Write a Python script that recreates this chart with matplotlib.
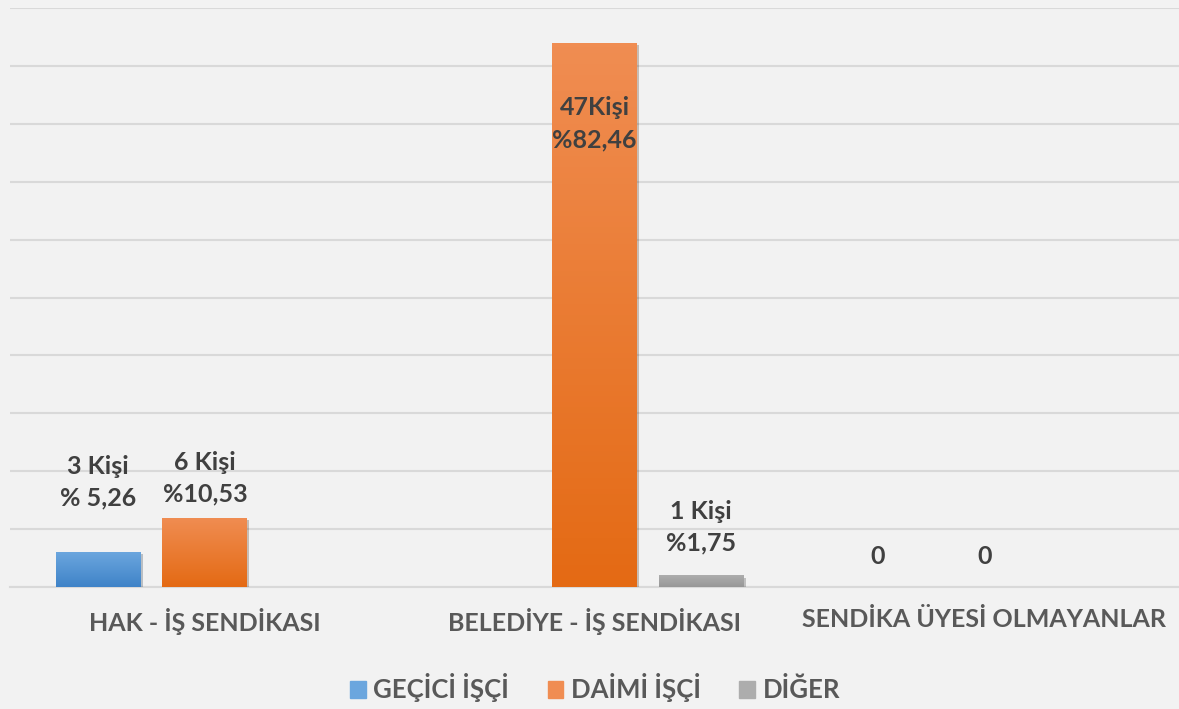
import numpy as np
import matplotlib
matplotlib.use("Agg")
import matplotlib.pyplot as plt
import matplotlib.patheffects as pe
from matplotlib.colors import LinearSegmentedColormap

# data
categories = ["HAK - İŞ SENDİKASI", "BELEDİYE - İŞ SENDİKASI", "SENDİKA ÜYESİ OLMAYANLAR"]
series = ["GEÇİCİ İŞÇİ", "DAİMİ İŞÇİ", "DİĞER"]
gecici = [3, 0, 0]
daimi = [6, 47, 0]
diger = [0, 1, 0]
gecici_labels = ["3 Kişi\n% 5,26", "", "0"]
daimi_labels = ["6 Kişi\n%10,53", "47Kişi\n%82,46", "0"]
diger_labels = ["", "1 Kişi\n%1,75", ""]

# style
top_cols = ["#6BA6DE", "#F08D52", "#ADADAD"]
bot_cols = ["#3F83C8", "#E46A14", "#979797"]
label_shift = [[70, 0, 30], [39, -81, 30], [0, 48, 0]]  # px above bar top
bg = "#F2F2F2"

plt.rcParams['font.family'] = ['Lato', 'DejaVu Sans']

fig = plt.figure(figsize=(11.79, 7.09), dpi=100, facecolor=bg)
ax = fig.add_axes([10/1179, 122/709, 1169/1179, 579/709])
ax.set_facecolor(bg)

x = np.arange(len(categories))
step = 0.274
width = 0.218
all_vals = [gecici, daimi, diger]
all_labels = [gecici_labels, daimi_labels, diger_labels]

for i, (vals, labs) in enumerate(zip(all_vals, all_labels)):
    bars = ax.bar(x + (i - 1) * step, vals, width, color=bot_cols[i], label=series[i], zorder=3,
                  path_effects=[pe.SimplePatchShadow(offset=(1.5, -1.5), alpha=0.25), pe.Normal()])
    cmap = LinearSegmentedColormap.from_list("g%d" % i, [bot_cols[i], top_cols[i]])
    for b in bars:
        h = b.get_height()
        if h <= 0:
            continue
        grad = np.linspace(0, 1, 100).reshape(-1, 1)
        im = ax.imshow(grad, cmap=cmap, origin="lower", aspect="auto", zorder=4,
                       extent=[b.get_x(), b.get_x() + b.get_width(), 0, h])
        im.set_clip_path(b)
    for b, lab, sh in zip(bars, labs, label_shift[i]):
        if not lab:
            continue
        ax.annotate(lab, (b.get_x() + b.get_width() / 2, b.get_height()),
                    xytext=(0, sh), textcoords="offset pixels", ha="center", va="center",
                    fontsize=18, fontweight="bold", color="#404040", linespacing=1.45, zorder=6)

ax.set_xlim(-0.5, 2.5)
ax.set_ylim(0, 50)
ax.set_yticks(np.arange(0, 51, 5))
ax.yaxis.grid(True, color="#D9D9D9", linewidth=1.5, zorder=0)
ax.tick_params(axis="y", left=False, labelleft=False)
ax.set_xticks(x)
ax.set_xticklabels(categories, fontsize=18, fontweight="bold", color="#595959")
ax.tick_params(axis="x", length=0, pad=15)
for s in ["top", "right", "left"]:
    ax.spines[s].set_visible(False)
ax.spines["bottom"].set_color("#D9D9D9")
ax.spines["bottom"].set_linewidth(1.5)

leg = fig.legend(loc="center", bbox_to_anchor=(595/1179, 1 - 688/709), ncol=3, frameon=False,
                 prop={"size": 18.5, "weight": "bold"}, handlelength=0.6, handleheight=0.6,
                 handletextpad=0.3, columnspacing=1.5)
for t in leg.get_texts():
    t.set_color("#595959")
for i, h in enumerate(leg.legend_handles):
    h.set_path_effects([])
    h.set_color(top_cols[i])

fig.savefig("out.png", dpi=100, facecolor=bg)
